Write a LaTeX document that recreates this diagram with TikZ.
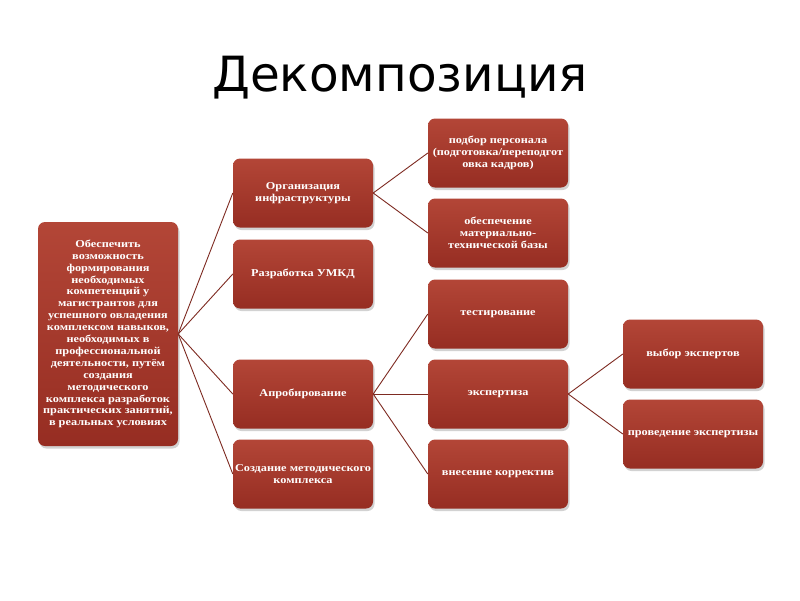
\documentclass[tikz,border=0pt]{standalone}
\usepackage{fontspec}
\setmainfont{Liberation Serif}
\newfontfamily\boxfont[FakeStretch=1.17]{Liberation Serif}
\newfontfamily\titlefont{DejaVu Sans}
\usetikzlibrary{shadows}
\definecolor{boxtop}{HTML}{B34637}
\definecolor{boxbot}{HTML}{962D22}
\definecolor{linkcol}{HTML}{7E2B22}
\tikzset{
  blk/.style={rounded corners=7pt, top color=boxtop, bottom color=boxbot, draw=none,
    drop shadow={shadow xshift=1.5pt, shadow yshift=-2.5pt, opacity=0.35},
    minimum width=140pt, minimum height=69pt, inner sep=2pt,
    text=white, font=\boxfont\bfseries\fontsize{10.5}{11.9}\selectfont, align=center},
  link/.style={draw=linkcol, line width=0.9pt}
}
\begin{document}
\begin{tikzpicture}[x=1pt,y=-1pt]
\useasboundingbox[fill=white] (0,0) rectangle (800,600);
\node[font=\titlefont\fontsize{48.5}{52}\selectfont] (title) at (400,78) {Декомпозиция};
\node[blk, minimum height=224pt] (root) at (108,334) {Обеспечить\\возможность\\формирования\\необходимых\\компетенций у\\магистрантов для\\успешного овладения\\комплексом навыков,\\необходимых в\\профессиональной\\деятельности, путём\\создания\\методического\\комплекса разработок\\практических занятий,\\в реальных условиях};
\node[blk] (org) at (303,193) {Организация\\инфраструктуры};
\node[blk] (umkd) at (303,274) {Разработка УМКД};
\node[blk] (aprob) at (303,394) {Апробирование};
\node[blk] (sozd) at (303,474) {Создание методического\\комплекса};
\node[blk] (podb) at (498,153) {подбор персонала\\(подготовка/переподгот\\овка кадров)};
\node[blk] (obesp) at (498,233) {обеспечение\\материально-\\технической базы};
\node[blk] (test) at (498,314) {тестирование};
\node[blk] (eksp) at (498,394) {экспертиза};
\node[blk] (vnes) at (498,474) {внесение корректив};
\node[blk] (vybor) at (693,354) {выбор экспертов};
\node[blk] (prov) at (693,434) {проведение экспертизы};
\foreach \t in {org,umkd,aprob,sozd} \draw[link] (root.east) -- (\t.west);
\foreach \t in {podb,obesp} \draw[link] (org.east) -- (\t.west);
\foreach \t in {test,eksp,vnes} \draw[link] (aprob.east) -- (\t.west);
\foreach \t in {vybor,prov} \draw[link] (eksp.east) -- (\t.west);
\end{tikzpicture}
\end{document}
